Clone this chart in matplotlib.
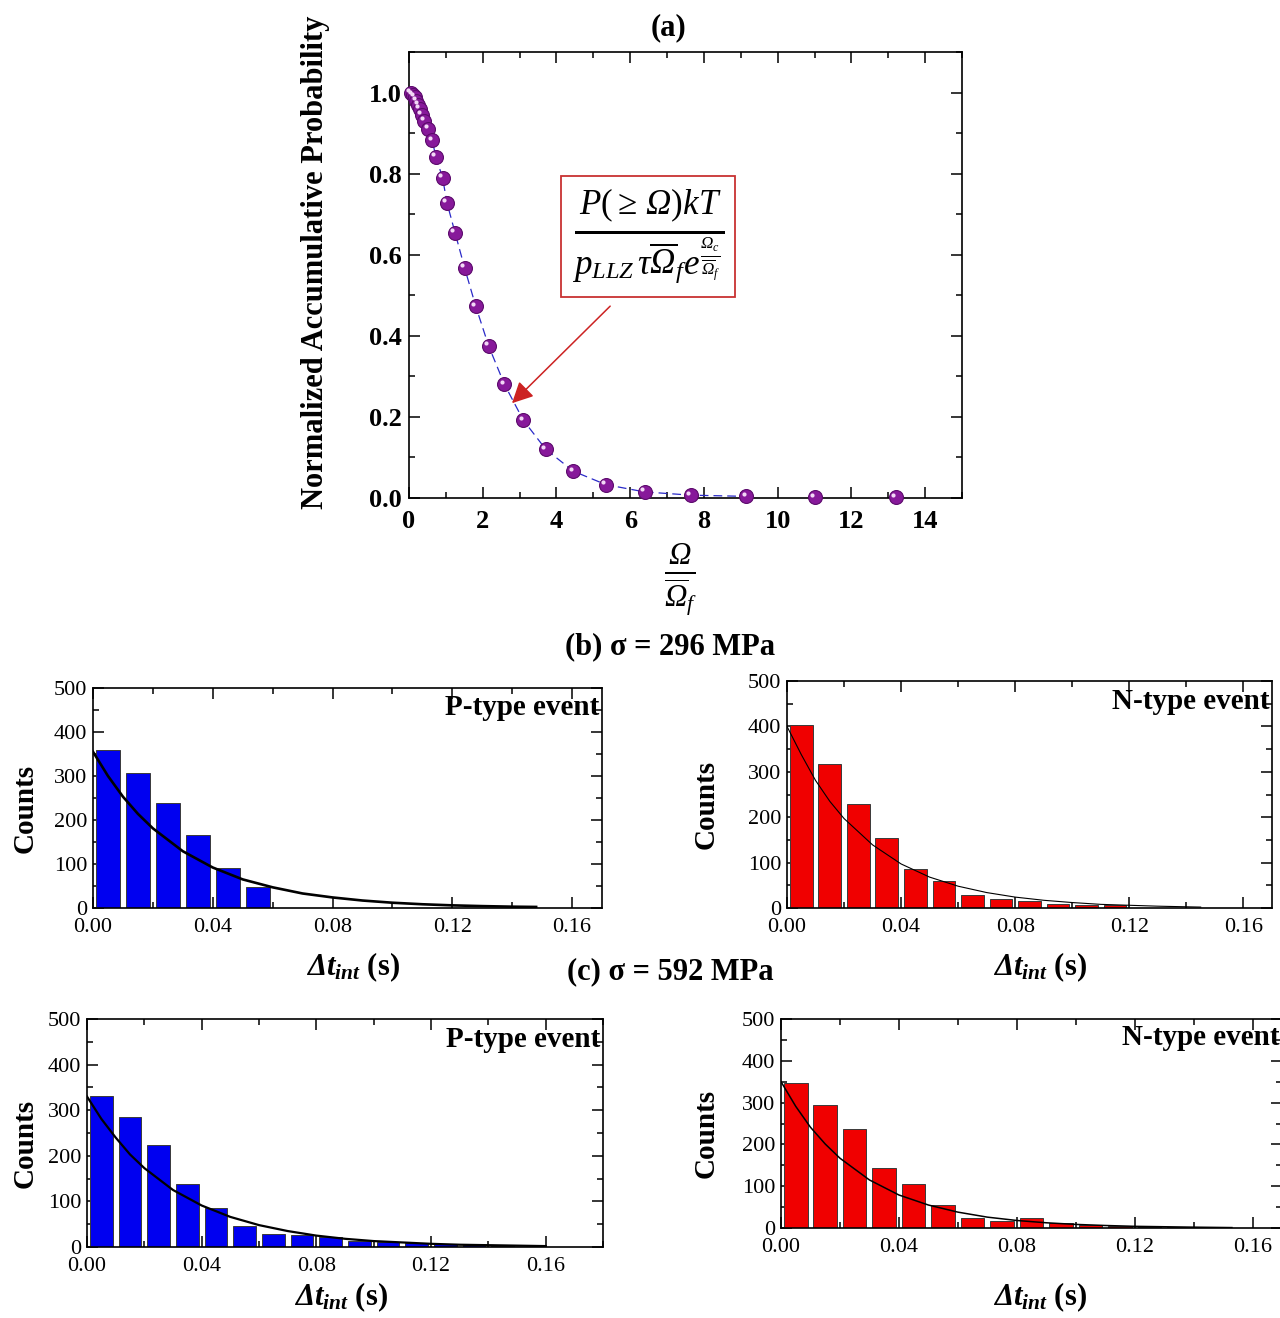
import numpy as np
import matplotlib
matplotlib.use("Agg")
import matplotlib.pyplot as plt
from matplotlib.ticker import MultipleLocator, FormatStrFormatter
from matplotlib.transforms import offset_copy

plt.rcParams['font.family'] = ['Liberation Serif', 'DejaVu Serif']
plt.rcParams['mathtext.fontset'] = 'custom'
plt.rcParams['mathtext.rm'] = 'Liberation Serif'
plt.rcParams['mathtext.it'] = 'Liberation Serif:italic'
plt.rcParams['mathtext.bf'] = 'Liberation Serif:bold'
# sf slot used for italic capital Greek (mathtext forces \mathit Greek capitals upright)
plt.rcParams['mathtext.sf'] = 'Liberation Serif:italic'
try:
    plt.rcParams['mathtext.bfit'] = 'Liberation Serif:bold:italic'
except KeyError:
    pass

# (a) normalized accumulative probability
omega = [0.05, 0.1, 0.15, 0.2, 0.25, 0.3, 0.35, 0.42, 0.52, 0.63, 0.73, 0.91, 1.03,
         1.25, 1.51, 1.81, 2.16, 2.59, 3.10, 3.71, 4.46, 5.34, 6.39, 7.65, 9.15, 11.0, 13.2]
prob = [1.0, 0.995, 0.99, 0.98, 0.97, 0.96, 0.945, 0.93, 0.911, 0.882, 0.841, 0.790, 0.728,
        0.654, 0.567, 0.473, 0.375, 0.280, 0.192, 0.120, 0.066, 0.033, 0.015, 0.007, 0.004, 0.002, 0.002]
n_fit_pts = 25  # dashed line runs through the first points only

# (b) sigma = 296 MPa
b_p_centers = [0.005, 0.015, 0.025, 0.035, 0.045, 0.055]
b_p_counts = [360, 307, 238, 165, 91, 48]
b_p_fit_t = [0, 0.005, 0.01, 0.015, 0.02, 0.03, 0.04, 0.05, 0.06, 0.07, 0.08, 0.09, 0.10, 0.11, 0.12, 0.13, 0.14, 0.148]
b_p_fit = [355, 300, 253, 214, 181, 129, 92, 65, 47, 33, 24, 17, 12, 8.5, 6, 4.3, 3, 2.4]

b_n_centers = [0.005, 0.015, 0.025, 0.035, 0.045, 0.055, 0.065, 0.075, 0.085, 0.095, 0.105, 0.115]
b_n_counts = [402, 318, 229, 154, 87, 59, 28, 19, 16, 8, 7, 6]
b_n_fit_t = [0, 0.005, 0.01, 0.015, 0.02, 0.03, 0.04, 0.05, 0.06, 0.07, 0.08, 0.09, 0.10, 0.11, 0.12, 0.13, 0.145]
b_n_fit = [400, 338, 281, 235, 197, 139, 97, 68, 48, 34, 24, 17, 12, 8, 6, 4, 2]

# (c) sigma = 592 MPa
c_p_centers = [0.005, 0.015, 0.025, 0.035, 0.045, 0.055, 0.065, 0.075, 0.085, 0.095, 0.105, 0.115, 0.125, 0.135, 0.145]
c_p_counts = [332, 285, 224, 139, 85, 47, 29, 27, 22, 13, 12, 8, 7, 5, 3]
c_p_fit_t = [0, 0.005, 0.01, 0.015, 0.02, 0.03, 0.04, 0.05, 0.06, 0.07, 0.08, 0.09, 0.10, 0.11, 0.12, 0.13, 0.14, 0.16]
c_p_fit = [330, 281, 240, 203, 173, 125, 91, 66, 48, 35, 25, 18, 13, 10, 7, 5, 4, 2]

c_n_centers = [0.005, 0.015, 0.025, 0.035, 0.045, 0.055, 0.065, 0.075, 0.085, 0.095, 0.105, 0.115, 0.125, 0.135, 0.145]
c_n_counts = [348, 295, 238, 143, 105, 54, 24, 17, 24, 12, 6, 5, 2, 2, 1]
c_n_fit_t = [0, 0.005, 0.01, 0.015, 0.02, 0.03, 0.04, 0.05, 0.06, 0.07, 0.08, 0.09, 0.10, 0.11, 0.12, 0.13, 0.14, 0.153]
c_n_fit = [350, 291, 241, 201, 167, 115, 79, 55, 38, 26, 18, 12.5, 8.6, 6, 4, 3, 2, 1]

W, H = 1280, 1318
fig = plt.figure(figsize=(W / 100, H / 100), dpi=100)


def px_axes(left, top, right, bottom):
    return fig.add_axes([left / W, 1 - bottom / H, (right - left) / W, (bottom - top) / H])


def px_text(x, y, s, **kw):
    fig.text(x / W, 1 - y / H, s, ha='center', va='center', **kw)


def style_ticks(ax, size, bold=False):
    ax.tick_params(which='both', direction='in', top=True, right=True, labelsize=size, width=1.1)
    ax.tick_params(which='major', length=8)
    ax.tick_params(which='minor', length=4)
    for sp in ax.spines.values():
        sp.set_linewidth(1.2)
    if bold:
        for lab in ax.get_xticklabels() + ax.get_yticklabels():
            lab.set_fontweight('bold')


# ---- panel (a)
ax = px_axes(409, 52, 962, 498)
ax.plot(omega[:n_fit_pts], prob[:n_fit_pts], color='#2a2ac8', lw=0.9, dashes=(7, 4), zorder=2)
ax.plot(omega, prob, 'o', ms=10, mfc='#87199a', mec='#5c0a6c', mew=0.8, zorder=3, clip_on=False)
hl = offset_copy(ax.transData, fig=fig, x=-1.9, y=1.9, units='points')
ax.plot(omega, prob, 'o', ms=3.0, mfc='#f2d8f6', mec='none', transform=hl, zorder=4, clip_on=False)
ax.set_xlim(0, 15)
ax.set_ylim(0, 1.1)
ax.xaxis.set_major_locator(MultipleLocator(2))
ax.xaxis.set_minor_locator(MultipleLocator(1))
ax.yaxis.set_major_locator(MultipleLocator(0.2))
ax.yaxis.set_minor_locator(MultipleLocator(0.1))
ax.yaxis.set_major_formatter(FormatStrFormatter('%.1f'))
style_ticks(ax, 19, bold=True)
ax.tick_params(axis='x', pad=9)
ax.tick_params(axis='y', pad=5)

formula = (r'$\frac{P(\geq\, \mathsf{Ω})kT}'
           r'{p_{LLZ}\,\tau\overline{\mathsf{Ω}}_f e^{\frac{\mathsf{Ω}_c}{\overline{\mathsf{Ω}}_f}}}$')
ax.text(6.48, 0.645, formula, fontsize=36, ha='center', va='center',
        bbox=dict(boxstyle='square,pad=0.22', fc='white', ec='#c83232', lw=1.3))
ax.annotate('', xy=(2.74, 0.229), xytext=(5.51, 0.478),
            arrowprops=dict(arrowstyle='-|>', color='#cc2222', lw=1.1, mutation_scale=32))

px_text(669, 28, '(a)', fontsize=22, fontweight='bold')
px_text(316, 262, 'Normalized Accumulative Probability', fontsize=22, fontweight='bold', rotation=90)
px_text(681, 580, r'$\frac{\mathsf{Ω}}{\overline{\mathsf{Ω}}_f}$', fontsize=32)

px_text(670, 647, '(b) σ = 296 MPa', fontsize=22, fontweight='bold')
px_text(670, 972, '(c) σ = 592 MPa', fontsize=22, fontweight='bold')

xlab = r'$\mathbfit{\Delta t}_{\mathbfit{int}}$ (s)'


def hist_panel(box, centers, counts, fit_t, fit_v, color, label, xmax, lw, ylab_x, xlab_pos):
    a = px_axes(*box)
    a.bar(centers, counts, width=0.008, color=color, edgecolor='#3a3a3a', linewidth=0.7, zorder=2)
    a.plot(fit_t, fit_v, color='black', lw=lw, zorder=3)
    a.set_xlim(0, xmax)
    a.set_ylim(0, 500)
    a.xaxis.set_major_locator(MultipleLocator(0.04))
    a.xaxis.set_minor_locator(MultipleLocator(0.02))
    a.yaxis.set_major_locator(MultipleLocator(100))
    a.yaxis.set_minor_locator(MultipleLocator(50))
    a.xaxis.set_major_formatter(FormatStrFormatter('%.2f'))
    style_ticks(a, 16)
    a.tick_params(axis='x', pad=7)
    a.tick_params(axis='y', pad=4)
    a.text(0.995, 0.91, label, transform=a.transAxes, ha='right', va='center',
           fontsize=21, fontweight='bold')
    top = box[1]
    bottom = box[3]
    px_text(ylab_x, (top + bottom) / 2 + 10, 'Counts', fontsize=21, fontweight='bold', rotation=90)
    px_text(xlab_pos[0], xlab_pos[1], xlab, fontsize=22, fontweight='bold')
    return a


hist_panel((93, 688, 602, 908), b_p_centers, b_p_counts, b_p_fit_t, b_p_fit,
           '#0000f0', 'P-type event', 0.17, 1.9, 25, (353, 967))
hist_panel((787, 681, 1272, 908), b_n_centers, b_n_counts, b_n_fit_t, b_n_fit,
           '#f00000', 'N-type event', 0.17, 0.8, 706, (1040, 967))
hist_panel((87, 1019, 603, 1247), c_p_centers, c_p_counts, c_p_fit_t, c_p_fit,
           '#0000f0', 'P-type event', 0.18, 1.6, 25, (341, 1297))
hist_panel((781, 1019, 1282, 1228), c_n_centers, c_n_counts, c_n_fit_t, c_n_fit,
           '#f00000', 'N-type event', 0.17, 1.1, 706, (1040, 1297))

fig.savefig('out.png', dpi=100)
